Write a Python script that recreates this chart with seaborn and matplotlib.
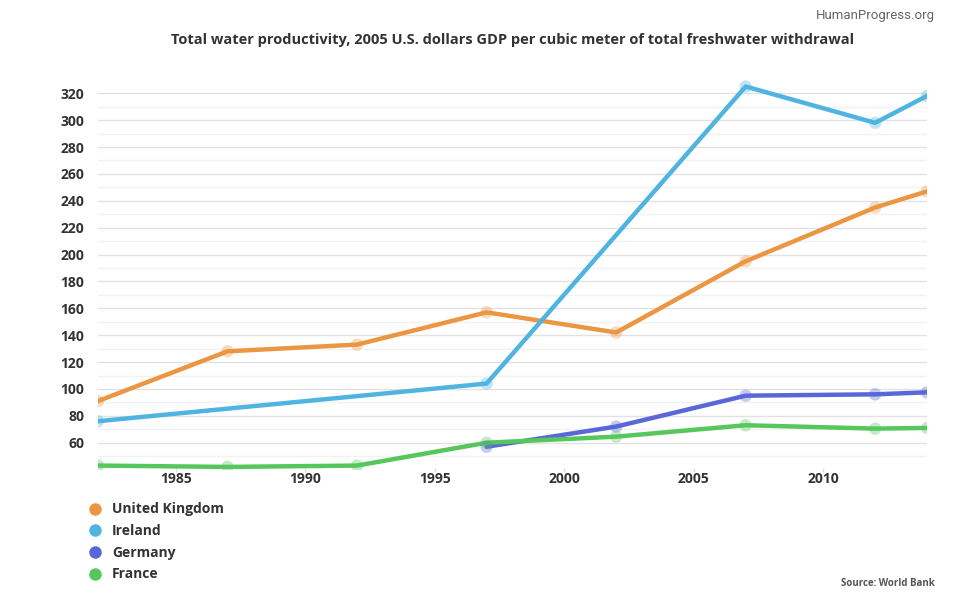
import matplotlib
matplotlib.use("Agg")
import matplotlib.pyplot as plt
from matplotlib.lines import Line2D
import seaborn as sns
import pandas as pd

# ---- data ----
uk_years = [1982, 1987, 1992, 1997, 2002, 2007, 2012, 2014]
uk_values = [91, 128, 133, 157, 142, 195, 235, 247]
ie_years = [1982, 1997, 2007, 2012, 2014]
ie_values = [76, 104, 325, 298, 318]
de_years = [1997, 2002, 2007, 2012, 2014]
de_values = [57, 72, 95, 96, 97.5]
fr_years = [1982, 1987, 1992, 1997, 2002, 2007, 2012, 2014]
fr_values = [43, 42, 43, 60, 64.5, 73, 70.5, 71]
countries = ["United Kingdom", "Ireland", "Germany", "France"]
colors = ["#EB9642", "#4FB5E0", "#5A67D8", "#55C75C"]
x_ticks = [1985, 1990, 1995, 2000, 2005, 2010]
y_ticks = [60, 80, 100, 120, 140, 160, 180, 200, 220, 240, 260, 280, 300, 320]
title = "Total water productivity, 2005 U.S. dollars GDP per cubic meter of total freshwater withdrawal"

rows = []
for name, yrs, vals in zip(countries,
                           [uk_years, ie_years, de_years, fr_years],
                           [uk_values, ie_values, de_values, fr_values]):
    for yv, vv in zip(yrs, vals):
        rows.append({"Year": yv, "Value": vv, "Country": name})
df = pd.DataFrame(rows)
palette = dict(zip(countries, colors))

sns.set_theme(style="white")
plt.rcParams["font.family"] = ["Open Sans", "DejaVu Sans"]

fig = plt.figure(figsize=(9.7, 6.0), dpi=100)
ax = fig.add_axes([98 / 970, 1 - 469.6 / 600, (927 - 98) / 970, (469.6 - 79.8) / 600])

for c in countries:
    sub = df[df["Country"] == c]
    sns.lineplot(data=sub, x="Year", y="Value", color=palette[c], linewidth=3.2,
                 ax=ax, legend=False, zorder=3)
    sns.scatterplot(data=sub, x="Year", y="Value", color=palette[c], s=80,
                    alpha=0.35, edgecolor="none", ax=ax, legend=False, zorder=4)

ax.set_xlim(1982, 2014)
ax.set_ylim(40, 330)
ax.set_xticks(x_ticks)
ax.set_xticklabels([str(t) for t in x_ticks])
ax.set_yticks(y_ticks)
ax.set_yticks(list(range(50, 320, 20)), minor=True)
ax.grid(axis="y", which="major", color="#E2E2E2", linewidth=1.0, zorder=0)
ax.grid(axis="y", which="minor", color="#F2F2F2", linewidth=1.0, zorder=0)
ax.set_axisbelow(True)
for s in ax.spines.values():
    s.set_visible(False)
ax.set_xlabel("")
ax.set_ylabel("")
ax.tick_params(axis="x", which="major", length=3, color="#DDDDDD", width=1,
               pad=0, labelsize=10, labelcolor="#333333", direction="inout", bottom=True)
ax.tick_params(axis="y", which="both", length=0, pad=10, labelsize=10, labelcolor="#333333")
for lab in ax.get_xticklabels() + ax.get_yticklabels():
    lab.set_fontweight("bold")

fig.text(513 / 970, 1 - 40 / 600, title, ha="center", va="center",
         fontsize=10.5, fontweight="bold", color="#333333")
fig.text(935 / 970, 1 - 15 / 600, "HumanProgress.org", ha="right", va="center",
         fontsize=9.5, color="#666666", family=["Roboto", "DejaVu Sans"])
fig.text(935 / 970, 1 - 583 / 600, "Source: World Bank", ha="right", va="center",
         fontsize=7, fontweight="bold", color="#555555")

handles = [Line2D([0], [0], marker="o", linestyle="none", markersize=9,
                  markerfacecolor=col, markeredgecolor="none") for col in colors]
leg = fig.legend(handles, countries, loc="upper left",
                 bbox_to_anchor=(76 / 970, 1 - 490 / 600), frameon=False,
                 handletextpad=0.7, labelspacing=0.55, handlelength=1.0,
                 prop={"weight": "bold", "size": 10})
for t in leg.get_texts():
    t.set_color("#333333")

fig.savefig("out.png", dpi=100)
